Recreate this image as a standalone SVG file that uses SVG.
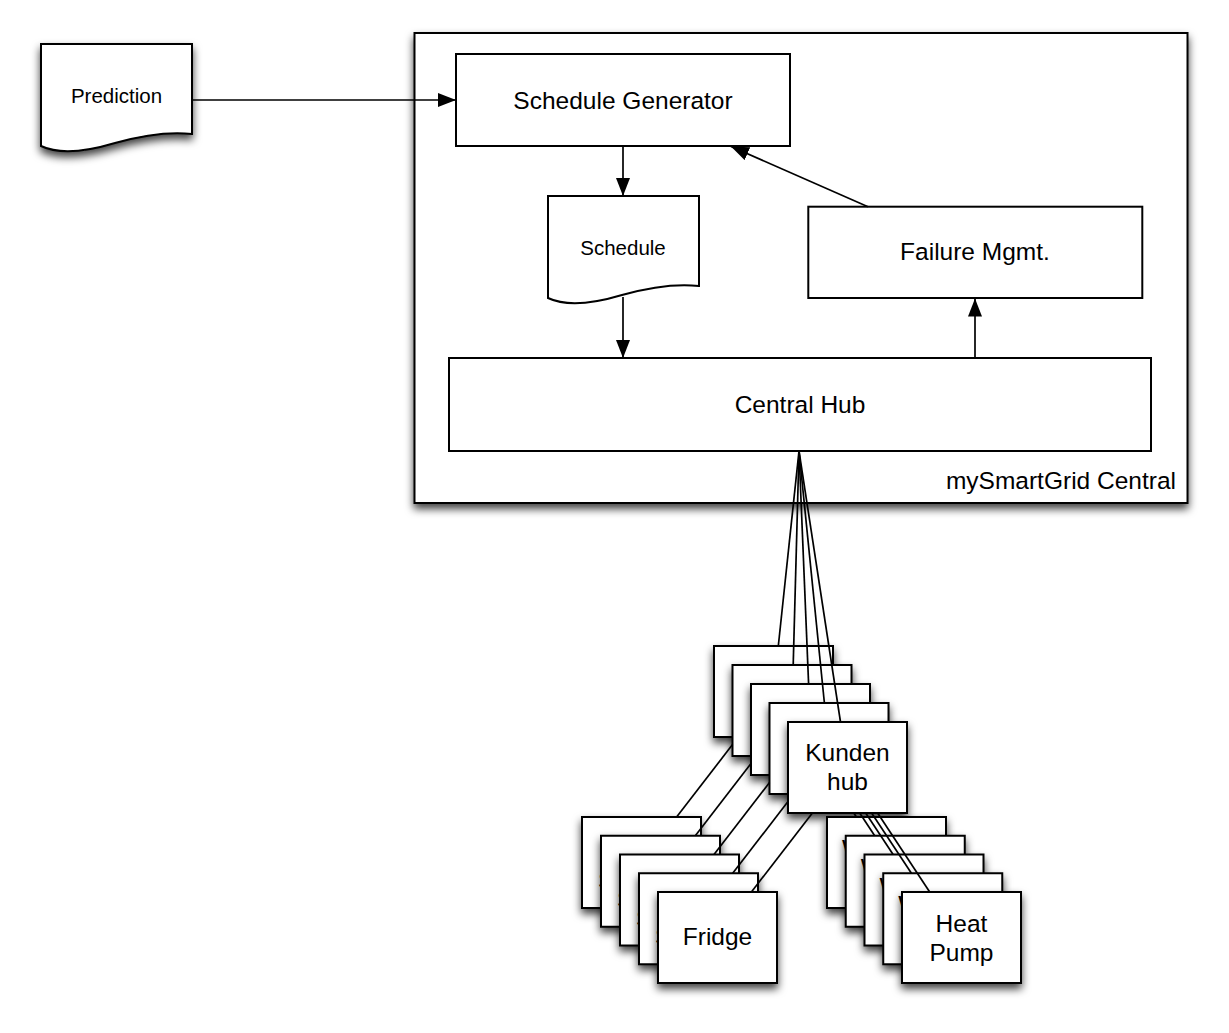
<svg xmlns="http://www.w3.org/2000/svg" width="1229" height="1033" viewBox="0 0 1229 1033">
<defs>
<filter id="sh" x="-25%" y="-25%" width="150%" height="160%">
<feDropShadow dx="0" dy="5" stdDeviation="4.5" flood-color="#000" flood-opacity="0.75"/>
</filter>
<marker id="arr" markerUnits="userSpaceOnUse" markerWidth="19" markerHeight="15" refX="18" refY="7" orient="auto">
<path d="M0,0 L18,7 L0,14 z" fill="#000"/>
</marker>
<style>
.box{fill:#fff;stroke:#000;stroke-width:2}
.shd{filter:url(#sh)}
.t{font-family:"Liberation Sans",Arial,Helvetica,sans-serif;fill:#000;text-anchor:middle}
.big{font-size:24.5px}
.sm{font-size:20.5px}
.ln{fill:none;stroke:#000;stroke-width:1.7}
.ar{fill:none;stroke:#000;stroke-width:1.7;marker-end:url(#arr)}
</style>
</defs>
<rect width="1229" height="1033" fill="#fff"/>

<g id="mySmartGrid-central">
<rect class="box shd" x="414.5" y="33" width="773" height="470"/>
<text class="t big" x="1176" y="489" style="text-anchor:end">mySmartGrid Central</text>
</g>

<g id="prediction">
<path class="box shd" d="M41,44 H192 V134 C165,131 140,136 115,143 C85,152 60,155 41,146 Z"/>
<text class="t sm" x="116.5" y="103">Prediction</text>
</g>

<g id="schedule-generator">
<rect class="box" x="456" y="54" width="334" height="92"/>
<text class="t big" x="623" y="109">Schedule Generator</text>
</g>

<g id="schedule">
<path class="box" d="M548,196 H699 V286 C672,283 647,288 622,295 C592,304 567,307 548,298 Z"/>
<text class="t sm" x="623" y="255">Schedule</text>
</g>

<g id="failure-mgmt">
<rect class="box" x="808.3" y="206.7" width="334" height="91.3"/>
<text class="t big" x="975" y="260">Failure Mgmt.</text>
</g>

<g id="central-hub">
<rect class="box" x="449" y="358" width="702" height="93"/>
<text class="t big" x="800" y="413">Central Hub</text>
</g>

<g id="kunden-hubs">
<rect class="box shd" x="714" y="646" width="119" height="91"/>
<rect class="box shd" x="732.5" y="665" width="119" height="91"/>
<rect class="box shd" x="751" y="684" width="119" height="91"/>
<rect class="box shd" x="769.5" y="703" width="119" height="91"/>
<rect class="box shd" x="788" y="722" width="119" height="91"/>
<text class="t big" x="847.5" y="761">Kunden</text>
<text class="t big" x="847.5" y="789.5">hub</text>
</g>

<g id="fridges">
<rect class="box shd" x="582" y="817" width="119" height="91"/>
<text class="t big" x="598" y="889" style="text-anchor:start">S</text>
<rect class="box shd" x="601" y="835.75" width="119" height="91"/>
<text class="t big" x="617" y="907.75" style="text-anchor:start">S</text>
<rect class="box shd" x="620" y="854.5" width="119" height="91"/>
<text class="t big" x="636" y="926.5" style="text-anchor:start">S</text>
<rect class="box shd" x="639" y="873.25" width="119" height="91"/>
<text class="t big" x="655" y="945.25" style="text-anchor:start">S</text>
<rect class="box shd" x="658" y="892" width="119" height="91"/>
<text class="t big" x="717.5" y="945">Fridge</text>
</g>

<g id="heat-pumps">
<rect class="box shd" x="827" y="817" width="119" height="91"/>
<text class="t big" x="842" y="857" style="text-anchor:start">W</text>
<rect class="box shd" x="845.75" y="835.75" width="119" height="91"/>
<text class="t big" x="860.75" y="875.75" style="text-anchor:start">W</text>
<rect class="box shd" x="864.5" y="854.5" width="119" height="91"/>
<text class="t big" x="879.5" y="894.5" style="text-anchor:start">W</text>
<rect class="box shd" x="883.25" y="873.25" width="119" height="91"/>
<text class="t big" x="898.25" y="913.25" style="text-anchor:start">W</text>
<rect class="box shd" x="902" y="892" width="119" height="91"/>
<text class="t big" x="961.5" y="932">Heat</text>
<text class="t big" x="961.5" y="960.5">Pump</text>
</g>

<g id="connectors">
<line class="ar" x1="192" y1="100" x2="456" y2="100"/>
<line class="ar" x1="623" y1="146" x2="623" y2="196"/>
<line class="ar" x1="623" y1="297" x2="623" y2="358"/>
<line class="ar" x1="868" y1="206.7" x2="731" y2="146.5"/>
<line class="ar" x1="975" y1="358" x2="975" y2="298.5"/>

<line class="ln" x1="799" y1="451" x2="778.3" y2="646"/>
<line class="ln" x1="799" y1="451" x2="793.2" y2="665"/>
<line class="ln" x1="799" y1="451" x2="808.6" y2="684"/>
<line class="ln" x1="799" y1="451" x2="824.4" y2="703"/>
<line class="ln" x1="799" y1="451" x2="840.5" y2="722"/>

<line class="ln" x1="732.5" y1="744.6" x2="676.6" y2="817"/>
<line class="ln" x1="751" y1="763.6" x2="695.3" y2="835.75"/>
<line class="ln" x1="769.5" y1="782.6" x2="714" y2="854.5"/>
<line class="ln" x1="788" y1="801.6" x2="732.7" y2="873.25"/>
<line class="ln" x1="812.4" y1="813" x2="751.4" y2="892"/>

<line class="ln" x1="853.8" y1="813" x2="856.4" y2="817"/>
<line class="ln" x1="859.7" y1="813" x2="874.7" y2="835.75"/>
<line class="ln" x1="865.7" y1="813" x2="893.1" y2="854.5"/>
<line class="ln" x1="871.6" y1="813" x2="911.4" y2="873.25"/>
<line class="ln" x1="877.6" y1="813" x2="929.7" y2="892"/>
</g>
</svg>
